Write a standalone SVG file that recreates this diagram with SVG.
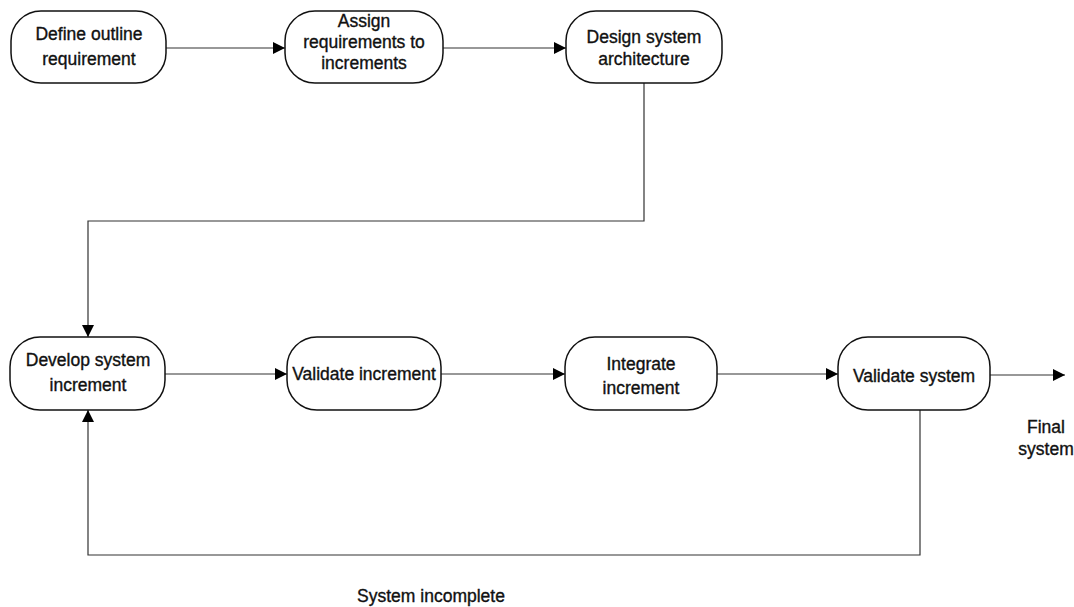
<svg xmlns="http://www.w3.org/2000/svg" width="1074" height="607" viewBox="0 0 1074 607">
<defs>
<marker id="ah" markerWidth="13" markerHeight="12" refX="12" refY="6" orient="auto" markerUnits="userSpaceOnUse">
<path d="M0,0 L12,6 L0,12 Z" fill="#000"/>
</marker>
<style>
.node rect{fill:#fff;stroke:#111;stroke-width:1.5}
text{font-family:"Liberation Sans",Arial,sans-serif;font-size:17.5px;fill:#111;stroke:#111;stroke-width:0.35;text-anchor:middle}
.conn path{fill:none;stroke:#333;stroke-width:1.2}
</style>
</defs>
<rect width="1074" height="607" fill="#fff"/>
<g class="conn">
<path d="M166,48 H285" marker-end="url(#ah)"/>
<path d="M443,48 H566" marker-end="url(#ah)"/>
<path d="M644,83 V221 H88 V337" stroke="#666" marker-end="url(#ah)"/>
<path d="M165,374 H287" marker-end="url(#ah)"/>
<path d="M441,374 H565" marker-end="url(#ah)"/>
<path d="M717,374 H838" marker-end="url(#ah)"/>
<path d="M990,375 H1065" marker-end="url(#ah)"/>
<path d="M920,410 V555 H88 V410" marker-end="url(#ah)"/>
</g>
<g id="n1" class="node"><rect x="11" y="11" width="155" height="72" rx="30"/><text x="89" y="40">Define outline</text><text x="89" y="65">requirement</text></g>
<g id="n2" class="node"><rect x="285" y="11" width="158" height="72" rx="30"/><text x="364" y="27">Assign</text><text x="364" y="48">requirements to</text><text x="364" y="69">increments</text></g>
<g id="n3" class="node"><rect x="566" y="11" width="156" height="72" rx="30"/><text x="644" y="43">Design system</text><text x="644" y="65">architecture</text></g>
<g id="n4" class="node"><rect x="10" y="337" width="155" height="73" rx="30"/><text x="88" y="366">Develop system</text><text x="88" y="391">increment</text></g>
<g id="n5" class="node"><rect x="287" y="337" width="154" height="73" rx="30"/><text x="364" y="380">Validate increment</text></g>
<g id="n6" class="node"><rect x="565" y="337" width="152" height="73" rx="30"/><text x="641" y="370">Integrate</text><text x="641" y="394">increment</text></g>
<g id="n7" class="node"><rect x="838" y="337" width="152" height="73" rx="30"/><text x="914" y="382">Validate system</text></g>
<g id="labels">
<text x="1046" y="433">Final</text>
<text x="1046" y="455">system</text>
<text x="431" y="602">System incomplete</text>
</g>
</svg>
